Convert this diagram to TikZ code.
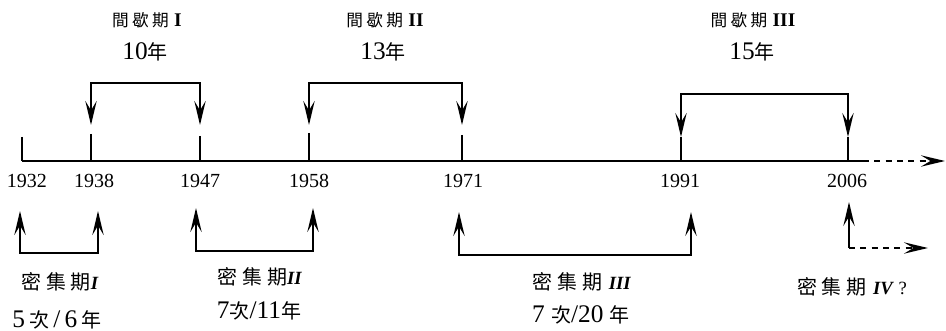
\documentclass[tikz,border=0pt]{standalone}
\usepackage{fontspec}
\setmainfont{Liberation Serif}
\newfontfamily\cjk{Noto Sans CJK TC}
\usetikzlibrary{arrows.meta}
\newcommand\zhs[1]{{\cjk\fontsize{12.5}{13}\selectfont #1}}
\newcommand\zhb[1]{{\cjk\fontsize{15}{16}\selectfont #1}}
\newcommand\gapS{\hspace{2.5pt}}
\newcommand\gapB{\hspace{3.5pt}}
\tikzset{
  ln/.style={line width=1.5pt},
  tip/.tip={Stealth[length=18pt,width=8.5pt,inset=7pt]},
  bi/.style={ln,tip-tip},
  uni/.style={ln,-tip},
  dsh/.style={ln,dash pattern=on 4.5pt off 4pt,-tip},
  year/.style={font=\fontsize{15}{17}\selectfont,inner sep=0pt,anchor=base},
  gaplab/.style={font=\fontsize{14.5}{16}\selectfont,inner sep=0pt,anchor=base},
  numlab/.style={font=\fontsize{19}{21}\selectfont,inner sep=0pt,anchor=base},
  denlab/.style={font=\fontsize{14}{16}\selectfont,inner sep=0pt,anchor=base},
}
\begin{document}
\begin{tikzpicture}[x=0.75pt,y=-0.75pt]
\useasboundingbox (0,0) rectangle (946,331);
% axis
\coordinate (a0) at (22,161);
\coordinate (aE) at (863,161);
\coordinate (aT) at (945,161);
\draw[ln] (a0) -- (aE);
\draw[dsh] (aE) -- (aT);
% ticks
\foreach \n/\x/\y in {t32/22/137,t38/91/134,t47/200/136,t58/309/133,t71/462/135,t91/681/137,t06/848/137}{
  \coordinate (\n top) at (\x,\y);
  \coordinate (\n bot) at (\x,161);
  \draw[ln] (\n top) -- (\n bot);
}
% year labels
\node[year] (y32) at (27,188) {1932};
\node[year] (y38) at (94,188) {1938};
\node[year] (y47) at (200,188) {1947};
\node[year] (y58) at (309,188) {1958};
\node[year] (y71) at (463,188) {1971};
\node[year] (y91) at (680,188) {1991};
\node[year] (y06) at (847,188) {2006};
% top brackets
\coordinate (g1a) at (91,125); \coordinate (g1b) at (91,83);
\coordinate (g1c) at (200,83); \coordinate (g1d) at (200,125);
\draw[bi] (g1a) -- (g1b) -- (g1c) -- (g1d);
\coordinate (g2a) at (309,125); \coordinate (g2b) at (309,83);
\coordinate (g2c) at (462,83); \coordinate (g2d) at (462,125);
\draw[bi] (g2a) -- (g2b) -- (g2c) -- (g2d);
\coordinate (g3a) at (681,137); \coordinate (g3b) at (681,94);
\coordinate (g3c) at (848,94); \coordinate (g3d) at (848,137);
\draw[bi] (g3a) -- (g3b) -- (g3c) -- (g3d);
% top labels
\node[gaplab] (l1) at (147,27) {\zhs{間\gapS 歇\gapS 期}\hspace{4pt}\textbf{I}};
\node[numlab] (n1) at (145,60) {10\zhb{年}};
\node[gaplab] (l2) at (385,27) {\zhs{間\gapS 歇\gapS 期}\hspace{4pt}\textbf{II}};
\node[numlab] (n2) at (383,60) {13\zhb{年}};
\node[gaplab] (l3) at (753,27) {\zhs{間\gapS 歇\gapS 期}\hspace{4pt}\textbf{III}};
\node[numlab] (n3) at (752,60) {15\zhb{年}};
% bottom brackets
\coordinate (d1a) at (20,211); \coordinate (d1b) at (20,253);
\coordinate (d1c) at (98,253); \coordinate (d1d) at (98,211);
\draw[bi] (d1a) -- (d1b) -- (d1c) -- (d1d);
\coordinate (d2a) at (196,208); \coordinate (d2b) at (196,251);
\coordinate (d2c) at (313,251); \coordinate (d2d) at (313,208);
\draw[bi] (d2a) -- (d2b) -- (d2c) -- (d2d);
\coordinate (d3a) at (459,212); \coordinate (d3b) at (459,255);
\coordinate (d3c) at (691,255); \coordinate (d3d) at (691,212);
\draw[bi] (d3a) -- (d3b) -- (d3c) -- (d3d);
\coordinate (d4a) at (849,248); \coordinate (d4b) at (849,202);
\coordinate (d4c) at (928,248);
\draw[uni] (d4a) -- (d4b);
\draw[dsh] (d4a) -- (d4c);
% bottom labels
\node[denlab] (m1) at (60,290) {\zhb{密\gapB 集\gapB 期}\textbf{\textit{I}}};
\node[numlab] (c1) at (57,327) {5\,\zhb{次}\,/\,6\,\zhb{年}};
\node[denlab] (m2) at (260,285) {\zhb{密\gapB 集\gapB 期}\textbf{\textit{II}}};
\node[numlab] (c2) at (259,319) {7\zhb{次}/11\zhb{年}};
\node[denlab] (m3) at (582,290) {\zhb{密\gapB 集\gapB 期}\hspace{5pt}\textbf{\textit{III}}};
\node[numlab] (c3) at (581,322) {7 \zhb{次}/20 \zhb{年}};
\node[denlab] (m4) at (852,295) {\zhb{密\gapB 集\gapB 期}\hspace{5pt}\textbf{\textit{IV}} ?};
\end{tikzpicture}
\end{document}
